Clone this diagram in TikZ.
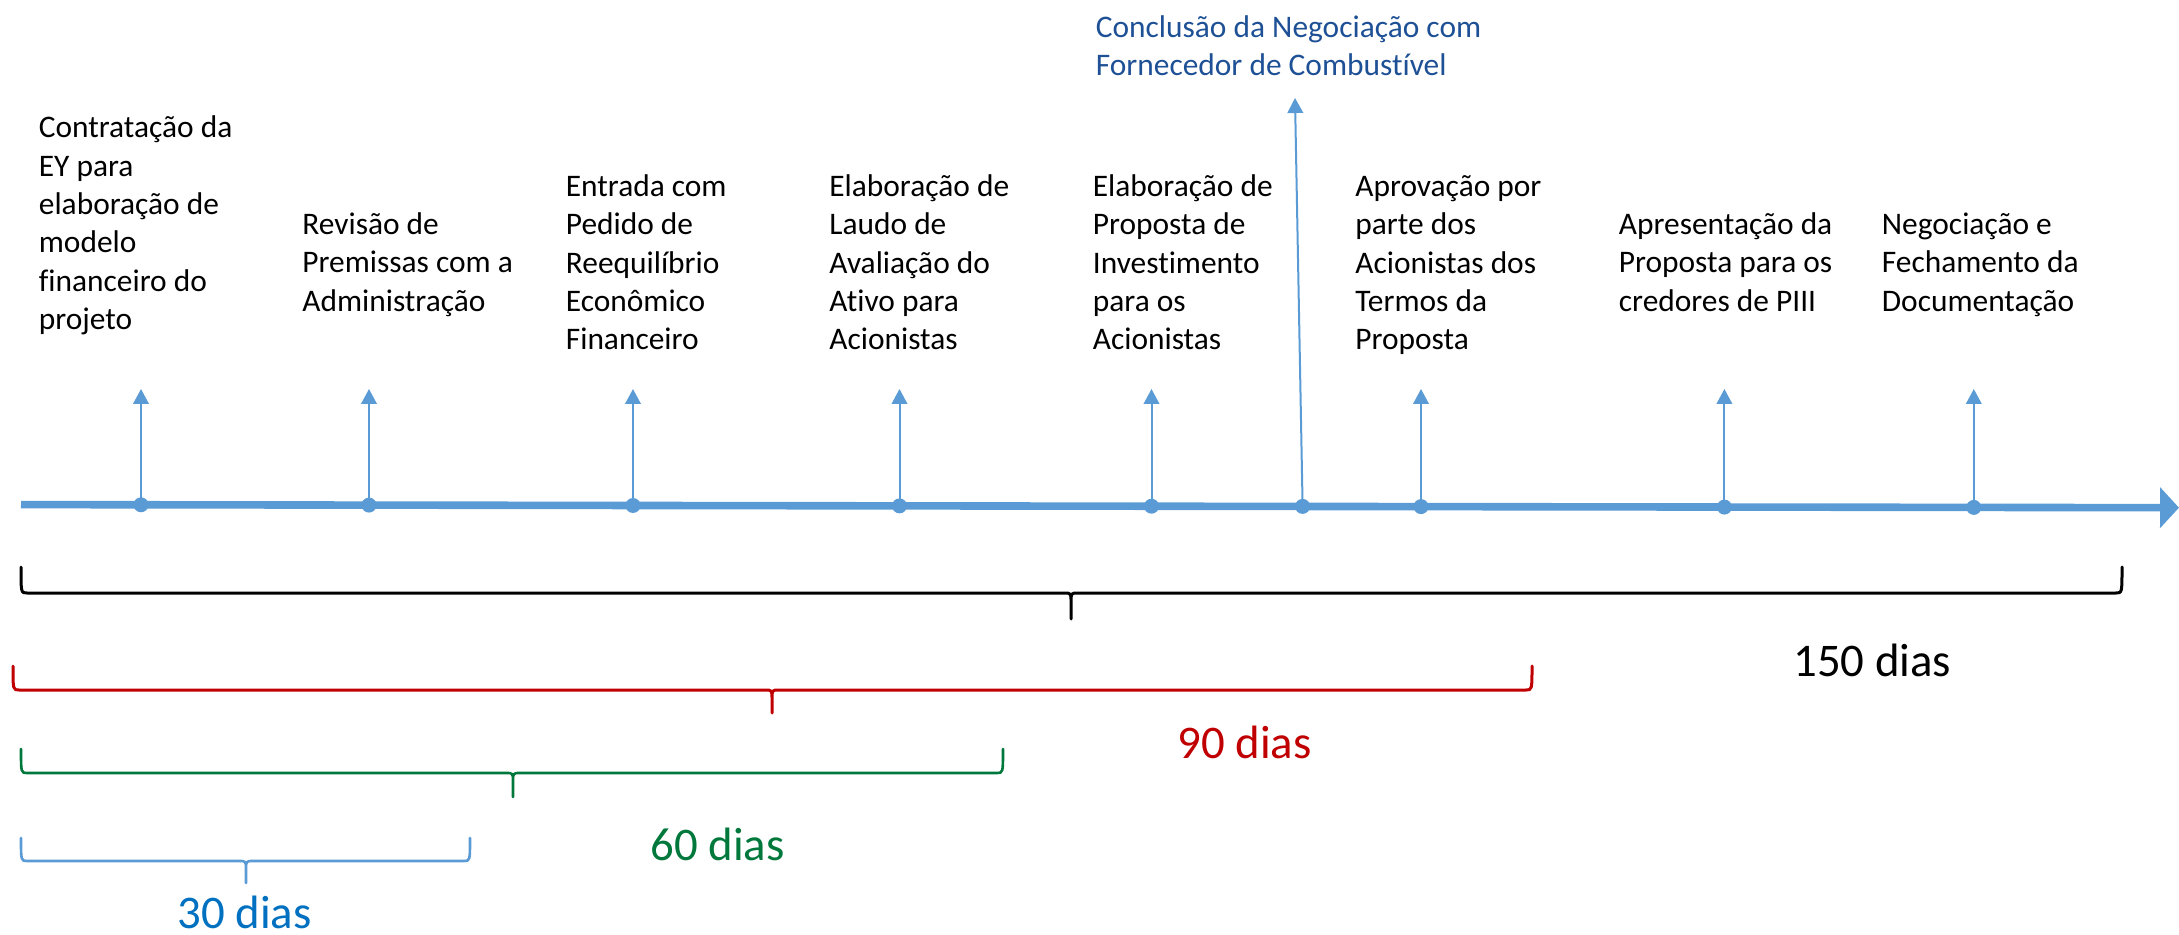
\documentclass[tikz,border=0pt]{standalone}
\usepackage{fontspec}
\setmainfont{Carlito}[Ligatures=NoCommon]
\usetikzlibrary{arrows.meta}
\definecolor{axisblue}{RGB}{91,155,213}
\definecolor{conclblue}{RGB}{30,80,150}
\definecolor{thirtyblue}{RGB}{0,112,192}
\definecolor{sixtygreen}{RGB}{0,120,60}
\definecolor{ninetyred}{RGB}{192,0,0}
\newcommand{\tlbrace}[7]{%
  \draw[#1] (#2,#5) .. controls (#2,#6) .. (#2+6,#6) -- (#4-7,#6)
    .. controls (#4,#6) .. (#4,#6+9) -- (#4,#7)
    (#4,#6+9) .. controls (#4,#6) .. (#4+7,#6) -- (#3-6,#6)
    .. controls (#3,#6) .. (#3,#5);}
\tikzset{
  axisline/.style={draw=axisblue, line width=3.8pt, -{Triangle[width=20pt,length=9.5pt]}},
  evdot/.style={circle, fill=axisblue, inner sep=0pt, minimum size=7.5pt},
  evarrow/.style={draw=axisblue, line width=1pt, -{Triangle[width=7.8pt,length=7.5pt]}},
  evtext/.style={anchor=north west, inner sep=0pt, align=left, text=black,
    font=\fontsize{15.7}{19.15}\selectfont},
  bigtext/.style={anchor=base west, inner sep=0pt, font=\fontsize{23.4}{28}\selectfont},
  bracestyle/.style={line width=1.5pt, line cap=round, line join=round}
}
\begin{document}
\begin{tikzpicture}[x=0.5pt,y=-0.5pt]
\useasboundingbox (0,0) rectangle (2179,935);
% main axis
\coordinate (axL) at (21,504.6);
\coordinate (axR) at (2179,507.7);
\draw[axisline] (axL) -- (axR);
% event dots
\node[evdot] (d1) at (141,504.8) {};
\node[evdot] (d2) at (369,505.1) {};
\node[evdot] (d3) at (633,505.5) {};
\node[evdot] (d4) at (899.5,505.9) {};
\node[evdot] (d5) at (1151.5,506.2) {};
\node[evdot] (d6) at (1302.6,506.4) {};
\node[evdot] (d7) at (1421,506.6) {};
\node[evdot] (d8) at (1724.4,507.1) {};
\node[evdot] (d9) at (1973.8,507.4) {};
% arrow tops
\coordinate (t1) at (141,389);
\coordinate (t2) at (369,389);
\coordinate (t3) at (633,389);
\coordinate (t4) at (899.5,389);
\coordinate (t5) at (1151.5,389);
\coordinate (t6) at (1295,98);
\coordinate (t7) at (1421,389);
\coordinate (t8) at (1724.4,389);
\coordinate (t9) at (1973.8,389);
\foreach \i in {1,...,9} { \draw[evarrow] (d\i.center) -- (t\i); }
% event texts
\node[evtext] (e1) at (38.5,110.7) {\strut Contratação da\\EY para\\elaboração de\\modelo\\financeiro do\\projeto};
\node[evtext] (e2) at (302,207.2) {\strut Revisão de\\Premissas com a\\Administração};
\node[evtext] (e3) at (565.5,169.2) {\strut Entrada com\\Pedido de\\Reequilíbrio\\Econômico\\Financeiro};
\node[evtext] (e4) at (829,169.2) {\strut Elaboração de\\Laudo de\\Avaliação do\\Ativo para\\Acionistas};
\node[evtext] (e5) at (1092.5,169.2) {\strut Elaboração de\\Proposta de\\Investimento\\para os\\Acionistas};
\node[evtext] (e6) at (1355,169.2) {\strut Aprovação por\\parte dos\\Acionistas dos\\Termos da\\Proposta};
\node[evtext] (e7) at (1618.5,207.2) {\strut Apresentação da\\Proposta para os\\credores de PIII};
\node[evtext] (e8) at (1881.5,207.2) {\strut Negociação e\\Fechamento da\\Documentação};
\node[evtext, text=conclblue] (e9) at (1095.5,10) {\strut Conclusão da Negociação com\\Fornecedor de Combustível};
% braces
\tlbrace{bracestyle, draw=black}{21}{2122}{1071}{567}{593}{619}
\tlbrace{bracestyle, draw=ninetyred}{13}{1532}{772}{666}{690}{713}
\tlbrace{bracestyle, draw=sixtygreen, line width=1.3pt}{21}{1003}{513}{749}{773}{797}
\tlbrace{bracestyle, draw=axisblue, line width=1.3pt}{21}{470}{246}{838}{861}{883}
% duration labels
\node[bigtext, text=black] (l150) at (1793,676) {150 dias};
\node[bigtext, text=ninetyred] (l90) at (1177,758) {90 dias};
\node[bigtext, text=sixtygreen] (l60) at (650,860) {60 dias};
\node[bigtext, text=thirtyblue] (l30) at (177,928) {30 dias};
\end{tikzpicture}
\end{document}
